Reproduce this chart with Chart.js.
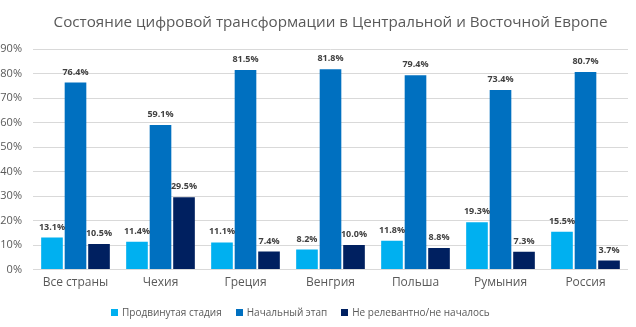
<!DOCTYPE html>
<html>
<head>
<meta charset="utf-8">
<script src="https://cdn.jsdelivr.net/npm/chart.js@4.4.1/dist/chart.umd.min.js"></script>
<style>
  html, body { margin: 0; padding: 0; background: #fff; }
  #wrap { position: relative; width: 636px; height: 327px; }
  #legend {
    position: absolute; left: 111px; top: 305px;
    font: 10px "Open Sans", sans-serif; color: #595959;
    display: flex; gap: 14px; white-space: nowrap;
  }
  #legend span.box { display: inline-block; width: 7px; height: 7px; margin-right: 4px; vertical-align: 0px; }
</style>
</head>
<body>
<div id="wrap">
  <canvas id="chart" width="636" height="327"></canvas>
  <div id="legend"></div>
</div>
<script>
// -------------------- Data --------------------
const countries = ["Все страны", "Чехия", "Греция", "Венгрия", "Польша", "Румыния", "Россия"];
const advanced = [13.1, 11.4, 11.1, 8.2, 11.8, 19.3, 15.5];
const initial = [76.4, 59.1, 81.5, 81.8, 79.4, 73.4, 80.7];
const notStarted = [10.5, 29.5, 7.4, 10.0, 8.8, 7.3, 3.7];
const seriesNames = ["Продвинутая стадия", "Начальный этап", "Не релевантно/не началось"];
const seriesColors = ["#00b0f0", "#0070c0", "#002060"];

const font = '"Open Sans", sans-serif';

// -------------------- Value labels above bars --------------------
const valueLabels = {
  id: "valueLabels",
  afterDatasetsDraw(chart) {
    const ctx = chart.ctx;
    ctx.save();
    ctx.font = "bold 9px " + font;
    ctx.fillStyle = "#404040";
    ctx.textAlign = "center";
    ctx.textBaseline = "bottom";
    chart.data.datasets.forEach((ds, i) => {
      chart.getDatasetMeta(i).data.forEach((bar, j) => {
        ctx.fillText(ds.data[j].toFixed(1) + "%", bar.x, bar.y - 6);
      });
    });
    ctx.restore();
  }
};

const datasets = [advanced, initial, notStarted].map((vals, i) => ({
  label: seriesNames[i],
  data: vals,
  backgroundColor: seriesColors[i],
  categoryPercentage: 0.83,
  barPercentage: 0.92
}));

new Chart(document.getElementById("chart"), {
  type: "bar",
  data: { labels: countries, datasets: datasets },
  options: {
    responsive: false,
    animation: false,
    layout: { padding: { left: 0, right: 8, top: 0, bottom: 31 } },
    plugins: {
      legend: { display: false },
      tooltip: { enabled: false },
      title: {
        display: true,
        fullSize: false,
        text: "Состояние цифровой трансформации в Центральной и Восточной Европе",
        color: "#595959",
        font: { family: font, size: 15.2, weight: "normal" },
        padding: { top: 14, bottom: 17 }
      }
    },
    scales: {
      x: {
        grid: { display: false, drawTicks: false },
        border: { display: false },
        ticks: { color: "#595959", font: { family: font, size: 12 }, padding: 6 }
      },
      y: {
        min: 0, max: 90,
        ticks: {
          stepSize: 10,
          color: "#595959",
          font: { family: font, size: 11 },
          padding: 11,
          callback: v => v + "%"
        },
        grid: { color: "#d9d9d9", drawTicks: false },
        border: { display: false },
        afterFit: s => { s.width = 33; }
      }
    }
  },
  plugins: [valueLabels]
});

// -------------------- Legend --------------------
const legend = document.getElementById("legend");
seriesNames.forEach((name, i) => {
  const item = document.createElement("div");
  item.innerHTML = `<span class="box" style="background:${seriesColors[i]}"></span>${name}`;
  legend.appendChild(item);
});
</script>
</body>
</html>
